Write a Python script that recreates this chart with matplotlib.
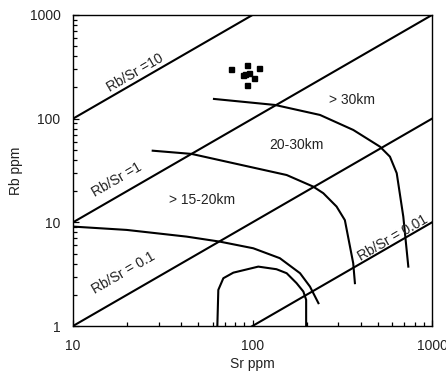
import matplotlib
matplotlib.use("Agg")
import matplotlib.pyplot as plt
from matplotlib.ticker import LogLocator, NullFormatter, FixedLocator, FixedFormatter
import numpy as np

plt.rcParams['font.family'] = ['Liberation Sans', 'DejaVu Sans']

# sample points (Sr, Rb in ppm)
sample_sr = [75.9, 93.2, 108.3, 96.0, 88.2, 90.8, 101.9, 93.2]
sample_rb = [299, 330, 306, 278, 264, 268, 245, 211]

# Rb/Sr reference ratios
ratios = [10, 1, 0.1, 0.01]
ratio_labels = ["Rb/Sr =10", "Rb/Sr =1", "Rb/Sr = 0.1", "Rb/Sr = 0.01"]
ratio_label_sr = [22.1, 17.5, 19.1, 607]
ratio_label_rb = [276, 25.6, 3.25, 7.08]

# depth boundary curves
deep_sr = [61.0, 133.5, 237.7, 364.4, 513, 583, 636, 692, 738]
deep_rb = [155, 135.6, 108.6, 77.8, 53.7, 43.0, 29.8, 11.35, 3.74]

mid_sr = [27.8, 45.8, 78.2, 155, 218, 248, 294, 327, 364, 372]
mid_rb = [49.1, 45.7, 37.2, 28.6, 22.1, 19.1, 14.2, 10.5, 4.03, 2.59]

shallow_sr = [10.0, 19.9, 43.0, 65.9, 101, 142, 184, 209, 233]
shallow_rb = [9.1, 8.45, 7.28, 6.51, 5.62, 4.51, 3.23, 2.40, 1.66]

inner_sr = [63.7, 64.5, 68.8, 78.2, 107.7, 136, 155, 176, 192, 199, 199]
inner_rb = [1.0, 2.23, 2.89, 3.27, 3.74, 3.53, 3.23, 2.59, 2.15, 1.79, 1.0]

zone_labels = ["> 30km", "20-30km", "> 15-20km"]
zone_sr = [357, 176, 52.1]
zone_rb = [151, 55.7, 16.4]

fig = plt.figure(figsize=(4.46, 3.76), dpi=100)
ax = fig.add_axes([73 / 446, 1 - 326 / 376, 359 / 446, 311 / 376])
ax.set_xscale('log')
ax.set_yscale('log')
ax.set_xlim(10, 1000)
ax.set_ylim(1, 1000)

sr_line = np.array([10, 1000])
for r in ratios:
    ax.plot(sr_line, r * sr_line, color='black', lw=1.5)

for curve_sr, curve_rb in [(deep_sr, deep_rb), (mid_sr, mid_rb),
                           (shallow_sr, shallow_rb), (inner_sr, inner_rb)]:
    ax.plot(curve_sr, curve_rb, color='black', lw=1.5)

ax.plot(sample_sr, sample_rb, 's', color='black', markersize=3.6, ls='none')

angle = np.degrees(np.arctan(103.7 / 179.5))
for lab, xs, ys in zip(ratio_labels, ratio_label_sr, ratio_label_rb):
    ax.text(xs, ys, lab, rotation=angle, rotation_mode='anchor',
            ha='center', va='center', fontsize=10, color='#222222')

for lab, xs, ys in zip(zone_labels, zone_sr, zone_rb):
    ax.text(xs, ys, lab, ha='center', va='center', fontsize=10, color='#222222')

ax.xaxis.set_major_locator(FixedLocator([10, 100, 1000]))
ax.xaxis.set_major_formatter(FixedFormatter(["10", "100", "1000"]))
ax.yaxis.set_major_locator(FixedLocator([1, 10, 100, 1000]))
ax.yaxis.set_major_formatter(FixedFormatter(["1", "10", "100", "1000"]))
ax.xaxis.set_minor_locator(LogLocator(base=10, subs=np.arange(2, 10)))
ax.yaxis.set_minor_locator(LogLocator(base=10, subs=np.arange(2, 10)))
ax.xaxis.set_minor_formatter(NullFormatter())
ax.yaxis.set_minor_formatter(NullFormatter())

ax.tick_params(which='both', direction='in', top=False, right=False,
               labelsize=10, labelcolor='#222222', width=0.9)
ax.tick_params(which='major', length=4.5, pad=9)
ax.tick_params(which='minor', length=3)

for s in ax.spines.values():
    s.set_linewidth(1.0)

ax.set_xlabel("Sr ppm", fontsize=10, color='#222222', labelpad=3)
ax.set_ylabel("Rb ppm", fontsize=10, color='#222222', labelpad=5)

fig.savefig("out.png", dpi=100)
